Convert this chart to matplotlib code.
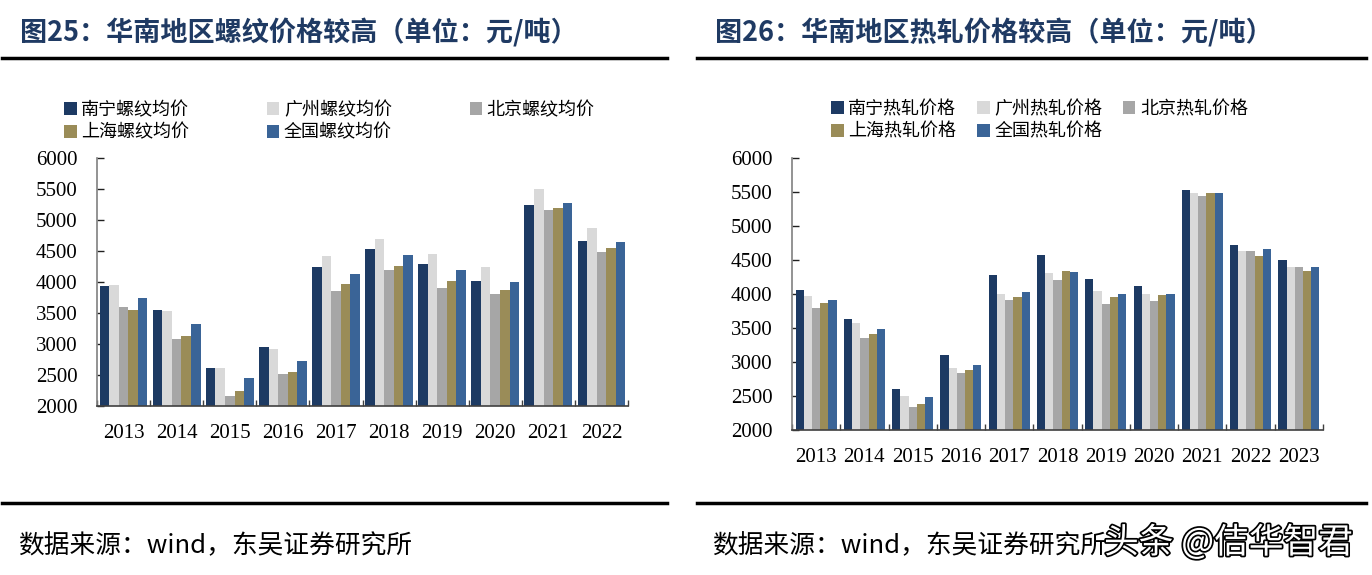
import matplotlib
matplotlib.use("Agg")
import matplotlib.pyplot as plt
import matplotlib.patheffects as pe
import numpy as np

plt.rcParams['font.family'] = ['Noto Sans CJK SC', 'DejaVu Sans']

# ---------------- data ----------------
years_rebar = ["2013", "2014", "2015", "2016", "2017", "2018", "2019", "2020", "2021", "2022"]
rebar_nanning   = [3940, 3545, 2608, 2958, 4245, 4530, 4288, 4013, 5236, 4654]
rebar_guangzhou = [3954, 3529, 2608, 2920, 4423, 4692, 4444, 4250, 5494, 4869]
rebar_beijing   = [3600, 3082, 2156, 2511, 3857, 4186, 3900, 3803, 5160, 4487]
rebar_shanghai  = [3550, 3130, 2242, 2549, 3970, 4256, 4024, 3863, 5187, 4541]
rebar_national  = [3744, 3324, 2447, 2732, 4132, 4433, 4197, 4003, 5268, 4643]
rebar_labels = ["南宁螺纹均价", "广州螺纹均价", "北京螺纹均价", "上海螺纹均价", "全国螺纹均价"]

years_hr = ["2013", "2014", "2015", "2016", "2017", "2018", "2019", "2020", "2021", "2022", "2023"]
hr_nanning   = [4059, 3627, 2608, 3108, 4279, 4573, 4225, 4118, 5529, 4721, 4505]
hr_guangzhou = [3971, 3578, 2505, 2912, 4000, 4304, 4044, 4000, 5480, 4632, 4402]
hr_beijing   = [3794, 3353, 2338, 2833, 3917, 4211, 3853, 3892, 5446, 4632, 4402]
hr_shanghai  = [3863, 3412, 2382, 2882, 3956, 4333, 3961, 3980, 5485, 4559, 4338]
hr_national  = [3912, 3480, 2480, 2951, 4025, 4319, 4005, 4000, 5490, 4657, 4402]
hr_labels = ["南宁热轧价格", "广州热轧价格", "北京热轧价格", "上海热轧价格", "全国热轧价格"]

y_ticks = [2000, 2500, 3000, 3500, 4000, 4500, 5000, 5500, 6000]

colors = ["#1d3a63", "#d9d9d9", "#a6a6a6", "#9a8c58", "#3a6497"]
title_color = "#1f3a63"

W, H = 1372, 575
fig = plt.figure(figsize=(W / 100, H / 100), dpi=100)
fig.patch.set_facecolor("white")


def px_axes(x0, x1, ytop, ybot):
    return fig.add_axes([x0 / W, 1 - ybot / H, (x1 - x0) / W, (ybot - ytop) / H])


def draw_panel(ax, years, series, labels, group_w, legend_xy, colspacing):
    n = len(series)
    x = np.arange(len(years))
    bw = group_w / n
    bars = []
    for i, (vals, c, lab) in enumerate(zip(series, colors, labels)):
        b = ax.bar(x - group_w / 2 + bw * (i + 0.5), vals, width=bw, color=c,
                   label=lab, zorder=2, linewidth=0)
        bars.append(b)
    ax.set_xlim(-0.5, len(years) - 0.5)
    ax.set_ylim(2000, 6000)
    ax.set_yticks(y_ticks)
    ax.set_yticklabels([str(v) for v in y_ticks], family=['Liberation Serif'], fontsize=15)
    ax.set_xticks(x)
    ax.set_xticklabels(years, family=['Liberation Serif'], fontsize=15)
    ax.tick_params(axis='x', which='major', length=0, pad=13)
    ax.set_xticks(np.arange(-0.5, len(years) + 0.5, 1.0), minor=True)
    ax.tick_params(axis='x', which='minor', direction='in', length=4, color='#404040', width=1)
    ax.tick_params(axis='y', direction='in', length=5, color='#202020', width=1, pad=14)
    for s in ['top', 'right']:
        ax.spines[s].set_visible(False)
    ax.spines['left'].set_color('#808080')
    ax.spines['bottom'].set_color('#404040')
    ax.spines['left'].set_linewidth(1.2)
    ax.spines['bottom'].set_linewidth(1.2)
    order = [0, 3, 1, 4, 2]
    fig.legend([bars[i] for i in order], [labels[i] for i in order],
               loc='upper left', bbox_to_anchor=(legend_xy[0] / W, 1 - legend_xy[1] / H),
               ncol=3, frameon=False, fontsize=13, handlelength=0.7, handleheight=0.7,
               handletextpad=0.25, columnspacing=colspacing, labelspacing=0.25,
               borderpad=0, borderaxespad=0)


axL = px_axes(97, 628, 158, 406)
draw_panel(axL, years_rebar,
           [rebar_nanning, rebar_guangzhou, rebar_beijing, rebar_shanghai, rebar_national],
           rebar_labels, 0.9, (64, 101), 4.3)

axR = px_axes(792, 1323, 158, 430)
draw_panel(axR, years_hr,
           [hr_nanning, hr_guangzhou, hr_beijing, hr_shanghai, hr_national],
           hr_labels, 0.85, (831, 100), 1.15)

# titles
fig.text(20 / W, 1 - 33 / H, "图25：华南地区螺纹价格较高（单位：元/吨）", fontsize=19.5,
         fontweight='bold', color=title_color, va='center', ha='left')
fig.text(715 / W, 1 - 33 / H, "图26：华南地区热轧价格较高（单位：元/吨）", fontsize=19.5,
         fontweight='bold', color=title_color, va='center', ha='left')

# rule lines
for (xa, xb) in [(2, 667), (697, 1366)]:
    for yy in (58, 503):
        fig.add_artist(plt.Line2D([xa / W, xb / W], [1 - yy / H, 1 - yy / H],
                                  color='black', linewidth=2.5))

# source
fig.text(18 / W, 1 - 546 / H, "数据来源：wind，东吴证券研究所", fontsize=18.5,
         color='black', va='center', ha='left')
fig.text(712 / W, 1 - 546 / H, "数据来源：wind，东吴证券研究所", fontsize=18.5,
         color='black', va='center', ha='left')

# watermark
fig.text(1104 / W, 1 - 543 / H, "头条 @佶华智君", fontsize=25, color='white',
         va='center', ha='left',
         path_effects=[pe.withStroke(linewidth=2.5, foreground='black')])

fig.savefig("out.png", dpi=100, facecolor="white")
